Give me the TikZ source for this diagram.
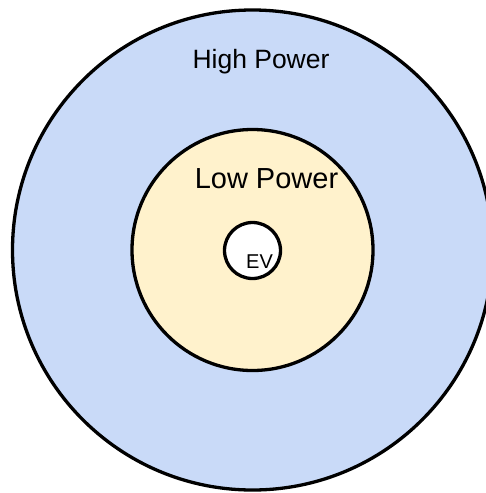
\documentclass[tikz,border=0pt]{standalone}
\usepackage{fontspec}
\setmainfont{Liberation Sans}
\definecolor{hiblue}{HTML}{C9DAF8}
\definecolor{loyellow}{HTML}{FFF2CC}
\begin{document}
\begin{tikzpicture}[x=1pt,y=-1pt,
  zone/.style={circle, draw=black, line width=3.3pt, inner sep=0pt},
  lbl/.style={anchor=base, inner sep=0pt, text=black}]
\useasboundingbox (0,0) rectangle (486,493);
\clip (0,0) rectangle (486,493);
\fill[white] (0,0) rectangle (486,493);
\node[zone, fill=hiblue, minimum size=480pt] (high) at (252.5,250) {};
\node[zone, fill=loyellow, minimum size=241pt] (low) at (252.5,250) {};
\node[zone, fill=white, minimum size=56pt] (ev) at (252.5,250.5) {};
\node[lbl, font=\fontsize{26.5}{30}\selectfont] (hightxt) at (261,68) {High Power};
\node[lbl, font=\fontsize{29}{33}\selectfont] (lowtxt) at (266.5,188) {Low Power};
\node[lbl, font=\fontsize{20}{23}\selectfont] (evtxt) at (259.5,268) {EV};
\end{tikzpicture}
\end{document}
